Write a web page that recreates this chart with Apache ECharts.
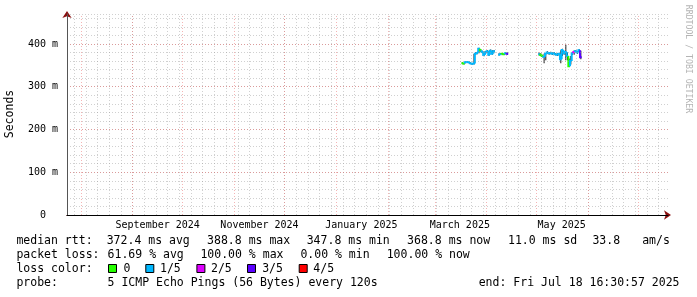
<!DOCTYPE html>
<html>
<head>
<meta charset="utf-8">
<script src="https://cdn.jsdelivr.net/npm/echarts@6/dist/echarts.min.js"></script>
<style>html,body{margin:0;padding:0;background:#fff}#c{width:697px;height:297px}</style>
</head>
<body>
<div id="c"></div>
<script>
// ---------- data ----------
const dates = [
  '2025-03-17','2025-03-18','2025-03-19','2025-03-20','2025-03-21','2025-03-22','2025-03-23','2025-03-24',
  '2025-03-25','2025-03-26','2025-03-27','2025-03-28','2025-03-29','2025-03-30','2025-03-31','2025-04-01',
  '2025-04-02','2025-04-03','2025-04-04','2025-04-05',
  '2025-04-08','2025-04-09','2025-04-10','2025-04-11','2025-04-12','2025-04-13',
  '2025-05-02','2025-05-03','2025-05-04','2025-05-05','2025-05-06','2025-05-07','2025-05-08','2025-05-09',
  '2025-05-10','2025-05-11','2025-05-12','2025-05-13','2025-05-14','2025-05-15','2025-05-16','2025-05-17',
  '2025-05-18','2025-05-19','2025-05-20','2025-05-21','2025-05-22','2025-05-23','2025-05-24','2025-05-25',
  '2025-05-26','2025-05-27'
];
const medianRtt = [
  355,354,357,358,357,355,353,354,
  377,379,388.8,385,381,374,380,383,
  375,384,377,383,
  375,376,377,376,378,377,
  376,375,372,370,377,380,378,379,
  377,378,376,375,377,364,386,378,
  381,372,347.8,360,378,381,383,380,
  385,368.8
];
const lossCount = [
  0,0,1,1,1,1,1,1,
  1,1,1,0,1,1,1,1,
  1,1,1,1,
  1,1,0,0,1,3,
  1,0,0,1,1,1,1,1,
  1,1,1,1,1,1,1,1,
  1,1,0,1,1,2,1,1,
  1,3
];
const smokeLow = [
  353,352,355,356,355,353,351,352,
  374,376,378,382,378,371,377,380,
  372,381,375,380,
  373,374,375,374,376,375,
  373,372,369,355,362,377,375,376,
  374,375,373,372,372,355,372,375,
  362,362,346,352,375,375,380,377,
  382,364
];
const smokeHigh = [
  357,356,359,360,359,357,355,377,
  381,382,391,388,384,383,383,386,
  384,387,385,386,
  378,379,379,378,381,380,
  380,378,375,377,379,383,381,382,
  380,381,379,378,379,385,389,381,
  398,380,366,372,381,385,386,383,
  388,384
];
const xTickDates = ['2024-09-16','2024-11-16','2025-01-16','2025-03-16','2025-05-16'];
const xTickLabels = ['September 2024','November 2024','January 2025','March 2025','May 2025'];
const yTickValues = [0,100,200,300,400];
const yTickLabels = ['0  ','100 m','200 m','300 m','400 m'];
const lossLevels = ['0','1/5','2/5','3/5','4/5'];
const medianStats = ['372.4 ms avg','388.8 ms max','347.8 ms min','368.8 ms now','11.0 ms sd','33.8','am/s'];
const lossStats = ['61.69 % avg','100.00 % max','0.00 % min','100.00 % now'];
const probeText = '5 ICMP Echo Pings (56 Bytes) every 120s';
const endText = 'end: Fri Jul 18 16:30:57 2025';
const endTime = '2025-07-18T16:30:57Z';
const spanDays = 360;

// ---------- styles / layout ----------
const lossColors = ['#26ff00','#00b8ff','#dd00ff','#5a00ff','#ff0000'];
const MONO = '"DejaVu Sans Mono", monospace';
const DAY = 86400000;
const endMs = Date.parse(endTime);
const startMs = endMs - spanDays * DAY;
const times = dates.map(d => Date.parse(d));
const tickMs = xTickDates.map(d => Date.parse(d));

// grid line positions (calendar structure)
const monthLines = [];
for (let y = 2024, m = 0; y <= 2025; m++) {
  if (m > 11) { m = 0; y++; if (y > 2025) break; }
  const t = Date.UTC(y, m, 1);
  if (t > startMs && t < endMs) monthLines.push(t);
}
const weekLines = [];
for (let t = Date.UTC(2024, 0, 7); t < endMs; t += 7 * DAY) {
  if (t > startMs) weekLines.push(t);
}

const gridGray = 'rgba(150,150,150,0.45)';
const gridRed = 'rgba(230,90,90,0.45)';

const chart = echarts.init(document.getElementById('c'), null, {renderer: 'canvas'});

const txt = (text, x, y, extra) => Object.assign({
  type: 'text', x: x, y: y, silent: true,
  style: {text: text, font: '11.5px ' + MONO, fill: '#000', align: 'left', verticalAlign: 'middle'}
}, extra || {});

const graphics = [];
graphics.push({type: 'text', x: 10, y: 114, rotation: Math.PI / 2, silent: true,
  style: {text: 'Seconds', font: '11.5px ' + MONO, fill: '#000', align: 'center', verticalAlign: 'middle'}});
graphics.push({type: 'text', x: 688, y: 59, rotation: -Math.PI / 2, silent: true,
  style: {text: 'RRDTOOL / TOBI OETIKER', font: '8.2px ' + MONO, fill: '#b4b4b4', align: 'center', verticalAlign: 'middle'}});
const row1X = [106.7, 207.1, 306.7, 407.1, 508, 592.4, 642.2];
const row2X = [107.6, 200.4, 300.4, 386.7];
const boxX = [108, 145.3, 196.4, 247, 298.7];
const levelX = [123.6, 160, 211, 262.2, 313.3];
const rowY = [241, 255, 269, 283];
graphics.push(txt('median rtt:', 16.4, rowY[0]));
medianStats.forEach((s, i) => graphics.push(txt(s, row1X[i], rowY[0])));
graphics.push(txt('packet loss:', 16.4, rowY[1]));
lossStats.forEach((s, i) => graphics.push(txt(s, row2X[i], rowY[1])));
graphics.push(txt('loss color:', 16.4, rowY[2]));
lossLevels.forEach((s, i) => {
  graphics.push({type: 'rect', silent: true, shape: {x: boxX[i] + 0.5, y: rowY[2] - 4.5, width: 8, height: 8},
    style: {fill: lossColors[i], stroke: '#000', lineWidth: 1}});
  graphics.push(txt(s, levelX[i], rowY[2]));
});
graphics.push(txt('probe:', 16.4, rowY[3]));
graphics.push(txt(probeText, 107.6, rowY[3]));
graphics.push(txt(endText, 478.7, rowY[3]));

const seriesData = times.map((t, i) => [t, medianRtt[i], smokeLow[i], smokeHigh[i], lossCount[i]]);

const vMark = (t, color) => ({xAxis: t, lineStyle: {color: color, type: [1, 2], width: 1}});
const hMark = (v) => ({yAxis: v, lineStyle: {color: gridRed, type: [1, 2], width: 1}});

const option = {
  animation: false,
  backgroundColor: '#ffffff',
  graphic: graphics,
  grid: {left: 67, top: 14, width: 601, height: 201, containLabel: false},
  xAxis: [
    {
      type: 'value', min: startMs, max: endMs, z: 5,
      axisLine: {show: true, lineStyle: {color: '#000', width: 1}},
      axisTick: {show: false},
      splitLine: {show: false},
      axisLabel: {
        show: true, customValues: tickMs, margin: 5,
        fontFamily: MONO, fontSize: 10, color: '#000',
        formatter: v => { const k = tickMs.indexOf(v); return k >= 0 ? xTickLabels[k] : ''; }
      }
    },
    {
      type: 'value', position: 'bottom', min: startMs, max: endMs, z: 4,
      axisLine: {show: true, symbol: ['none', 'arrow'], symbolSize: [7, 7], symbolOffset: [0, 3],
        lineStyle: {color: '#8b1010', width: 1}},
      axisTick: {show: false}, axisLabel: {show: false}, splitLine: {show: false}
    }
  ],
  yAxis: [
    {
      type: 'value', min: 0, max: 470, interval: 20, z: 5,
      axisLine: {show: true, lineStyle: {color: '#555', width: 1}},
      axisTick: {show: false},
      splitLine: {show: true, lineStyle: {color: gridGray, type: [1, 2], width: 1}},
      axisLabel: {
        margin: 9, fontFamily: MONO, fontSize: 10, color: '#000',
        formatter: v => { const k = yTickValues.indexOf(v); return k >= 0 ? yTickLabels[k] : ''; }
      }
    },
    {
      type: 'value', position: 'left', min: 0, max: 470, z: 4,
      axisLine: {show: true, symbol: ['none', 'arrow'], symbolSize: [7, 7], symbolOffset: [0, 3],
        lineStyle: {color: '#8b1010', width: 1}},
      axisTick: {show: false}, axisLabel: {show: false}, splitLine: {show: false}
    }
  ],
  series: [
    {
      name: 'smoke', type: 'custom', z: 2, clip: true,
      xAxisIndex: 0, yAxisIndex: 0,
      encode: {x: 0, y: [2, 3]},
      data: seriesData,
      renderItem: function (params, api) {
        const t = api.value(0);
        const a = api.coord([t, api.value(3)]);
        const b = api.coord([t + DAY, api.value(2)]);
        const w = Math.max(1, (b[0] - a[0]) * 0.6);
        return {type: 'rect', shape: {x: a[0] + 0.3, y: a[1], width: w, height: b[1] - a[1]},
          style: {fill: '#1a1a1a'}};
      },
      markLine: {
        silent: true, symbol: ['none', 'none'], label: {show: false}, animation: false,
        data: weekLines.map(t => vMark(t, gridGray))
          .concat(monthLines.map(t => vMark(t, gridRed)))
          .concat([100, 200, 300, 400].map(hMark))
      }
    },
    {
      name: 'median', type: 'custom', z: 3, clip: true,
      xAxisIndex: 0, yAxisIndex: 0,
      encode: {x: 0, y: 1},
      data: seriesData,
      renderItem: function (params, api) {
        const i = params.dataIndex;
        const t = api.value(0), v = api.value(1);
        const p1 = api.coord([t, v]);
        const p2 = api.coord([t + DAY, v]);
        const pts = [];
        if (i > 0 && times[i] - times[i - 1] === DAY) {
          const pp = api.coord([t, medianRtt[i - 1]]);
          pts.push([p1[0], pp[1]]);
        }
        pts.push(p1, p2);
        return {type: 'polyline', shape: {points: pts},
          style: {stroke: lossColors[api.value(4)], lineWidth: 2, fill: null}};
      }
    }
  ]
};
chart.setOption(option);
</script>
</body>
</html>
